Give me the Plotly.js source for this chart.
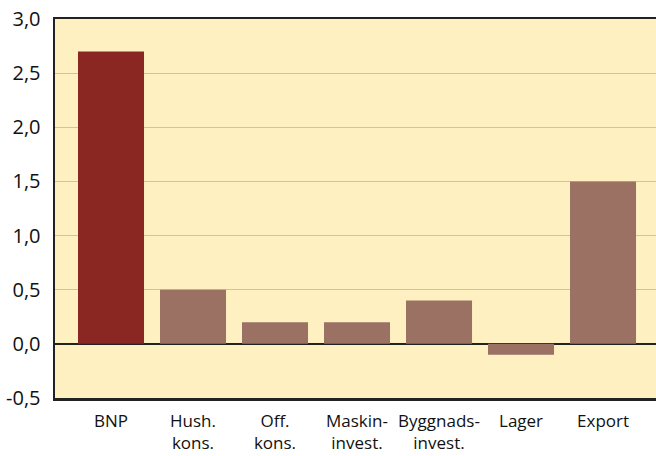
<!DOCTYPE html>
<html>
<head>
<meta charset="utf-8">
<script src="https://cdn.plot.ly/plotly-3.0.1.min.js"></script>
<style>html,body{margin:0;padding:0;background:#fff;}#chart{width:656px;height:456px;}</style>
</head>
<body>
<div id="chart"></div>
<script>
var categories = ["BNP", "Hush.<br>kons.", "Off.<br>kons.", "Maskin-<br>invest.", "Byggnads-<br>invest.", "Lager", "Export"];
var values = [2.7, 0.5, 0.2, 0.2, 0.4, -0.1, 1.5];
var barColors = ["#8B2723", "#9A7163", "#9A7163", "#9A7163", "#9A7163", "#9A7163", "#9A7163"];
var yTickVals = [-0.5, 0, 0.5, 1, 1.5, 2, 2.5, 3];
var yTickText = ["-0,5", "0,0", "0,5", "1,0", "1,5", "2,0", "2,5", "3,0"];

var idx = categories.map(function(_, i){ return i; });

var trace = {
  type: "bar",
  x: idx,
  y: values,
  marker: {color: barColors, line: {width: 0}},
  width: 0.805,
  hoverinfo: "none"
};

var layout = {
  width: 656, height: 456,
  margin: {l: 55, r: 0, t: 19, b: 58, pad: 0},
  paper_bgcolor: "#ffffff",
  plot_bgcolor: "#FEF0C1",
  showlegend: false,
  font: {family: "Open Sans, sans-serif", color: "#111"},
  xaxis: {
    range: [-0.683, 6.646],
    tickvals: idx,
    ticktext: categories,
    tickfont: {size: 17, color: "#111", family: "Open Sans, sans-serif"},
    ticklabelstandoff: 6,
    showgrid: false,
    zeroline: false,
    showline: true,
    mirror: true,
    linecolor: "#222",
    linewidth: 2.5,
    ticks: "",
    fixedrange: true
  },
  yaxis: {
    range: [-0.5, 3.0],
    tickvals: yTickVals,
    ticktext: yTickText,
    tickfont: {size: 20, color: "#111", family: "Open Sans, sans-serif"},
    ticklabelstandoff: 8,
    showgrid: true,
    gridcolor: "#BCC4D2",
    gridwidth: 1,
    zeroline: true,
    zerolinecolor: "#222",
    zerolinewidth: 1.5,
    showline: true,
    linecolor: "#222",
    linewidth: 2.5,
    ticks: "",
    ticklen: 0,
    fixedrange: true
  }
};

Plotly.newPlot("chart", [trace], layout, {displayModeBar: false, staticPlot: true});
</script>
</body>
</html>
